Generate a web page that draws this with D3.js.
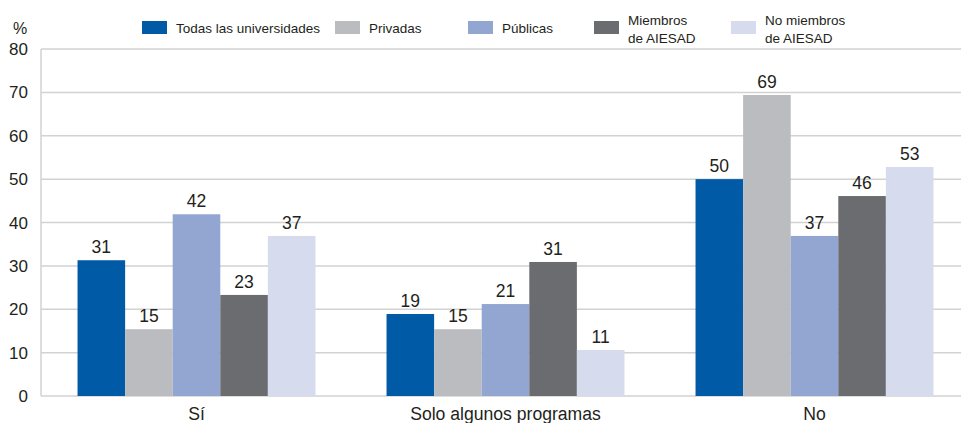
<!DOCTYPE html>
<html>
<head>
<meta charset="utf-8">
<script src="https://cdn.jsdelivr.net/npm/d3@7"></script>
<style>
  body { margin: 0; background: #fff; }
  text { font-family: "Liberation Sans", Arial, sans-serif; fill: #231f20; }
</style>
</head>
<body>
<div id="chart"></div>
<script>
const categories = ["Sí", "Solo algunos programas", "No"];
const seriesNames = ["Todas las universidades", "Privadas", "Públicas", "Miembros de AIESAD", "No miembros de AIESAD"];
const legendLines = [["Todas las universidades"], ["Privadas"], ["Públicas"], ["Miembros", "de AIESAD"], ["No miembros", "de AIESAD"]];
const todas = [31.3, 18.9, 50.0];
const privadas = [15.4, 15.4, 69.4];
const publicas = [41.9, 21.2, 36.9];
const miembros = [23.3, 30.9, 46.1];
const noMiembros = [36.9, 10.6, 52.8];
const yTicks = [0, 10, 20, 30, 40, 50, 60, 70, 80];
const colors = ["#005aa6", "#bbbcc0", "#93a6d2", "#6b6c70", "#d6dbee"];

const width = 961, height = 423;
const seriesValues = [todas, privadas, publicas, miembros, noMiembros];

const svg = d3.select("#chart").append("svg")
    .attr("width", width)
    .attr("height", height);

const x0 = d3.scaleBand()
    .domain(categories)
    .range([42, 969])
    .paddingInner(0.23)
    .paddingOuter(0.115);

const x1 = d3.scaleBand()
    .domain(seriesNames)
    .range([0, x0.bandwidth()]);

const y = d3.scaleLinear()
    .domain([0, 80])
    .range([396, 49]);

// gridlines
svg.append("g")
    .selectAll("line")
    .data(yTicks)
    .join("line")
    .attr("x1", 41)
    .attr("x2", width)
    .attr("y1", d => y(d))
    .attr("y2", d => y(d))
    .attr("stroke", "#d2d2d2")
    .attr("stroke-width", 1.5);

// y axis line
svg.append("line")
    .attr("x1", 41).attr("x2", 41)
    .attr("y1", y(80)).attr("y2", y(0))
    .attr("stroke", "#d2d2d2")
    .attr("stroke-width", 1.5);

// y tick labels
svg.append("g")
    .selectAll("text")
    .data(yTicks)
    .join("text")
    .attr("x", 28)
    .attr("y", d => y(d))
    .attr("dy", "0.36em")
    .attr("text-anchor", "end")
    .attr("font-size", 17)
    .text(d => d);

svg.append("text")
    .attr("x", 20)
    .attr("y", 34)
    .attr("text-anchor", "middle")
    .attr("font-size", 16)
    .text("%");

// bars
const groups = svg.append("g")
    .selectAll("g")
    .data(categories)
    .join("g")
    .attr("transform", d => "translate(" + x0(d) + ",0)");

groups.selectAll("rect")
    .data((c, i) => seriesNames.map((s, j) => ({ s: s, j: j, v: seriesValues[j][i] })))
    .join("rect")
    .attr("x", d => x1(d.s))
    .attr("y", d => y(d.v))
    .attr("width", x1.bandwidth())
    .attr("height", d => y(0) - y(d.v))
    .attr("fill", d => colors[d.j]);

groups.selectAll("text")
    .data((c, i) => seriesNames.map((s, j) => ({ s: s, j: j, v: seriesValues[j][i] })))
    .join("text")
    .attr("x", d => x1(d.s) + x1.bandwidth() / 2)
    .attr("y", d => y(d.v) - 7)
    .attr("text-anchor", "middle")
    .attr("font-size", 17.5)
    .text(d => Math.round(d.v));

// category labels
svg.append("g")
    .selectAll("text")
    .data(categories)
    .join("text")
    .attr("x", d => x0(d) + x0.bandwidth() / 2)
    .attr("y", 420)
    .attr("text-anchor", "middle")
    .attr("font-size", 17.6)
    .text(d => d);

// legend
const legendX = [142, 335, 468, 594, 731];
const legend = svg.append("g")
    .selectAll("g")
    .data(seriesNames)
    .join("g")
    .attr("transform", (d, i) => "translate(" + legendX[i] + ",21)");

legend.append("rect")
    .attr("width", 25)
    .attr("height", 13)
    .attr("fill", (d, i) => colors[i]);

legend.each(function(d, i) {
    const lines = legendLines[i];
    const t = d3.select(this).append("text")
        .attr("font-size", 13.5);
    lines.forEach((ln, k) => {
        t.append("tspan")
            .attr("x", 34)
            .attr("y", lines.length === 1 ? 12 : 4 + k * 18)
            .text(ln);
    });
});
</script>
</body>
</html>
